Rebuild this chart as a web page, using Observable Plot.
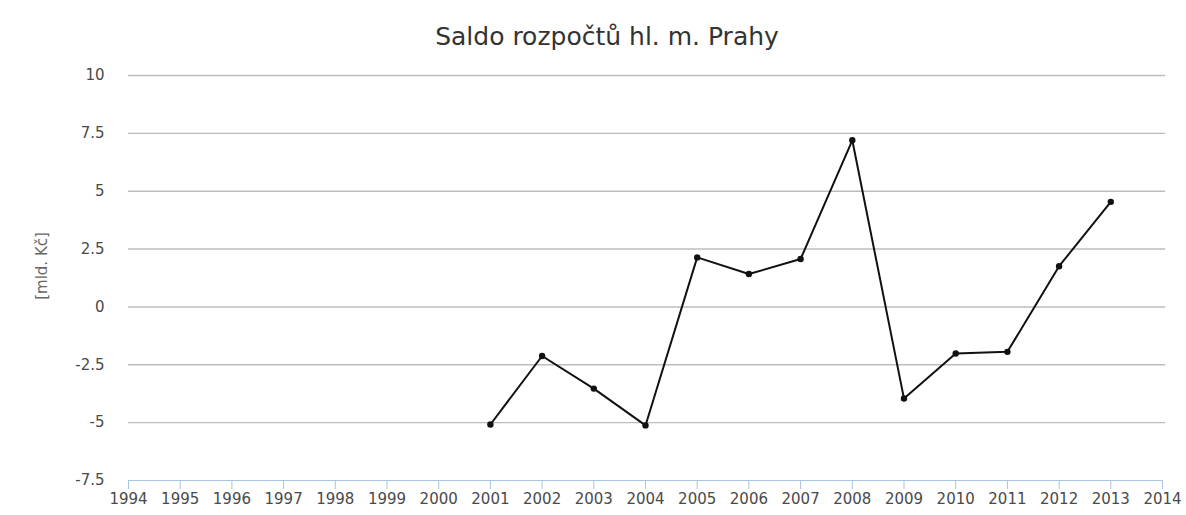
<!DOCTYPE html>
<html>
<head>
<meta charset="utf-8">
<script src="https://cdn.jsdelivr.net/npm/d3@7"></script>
<script src="https://cdn.jsdelivr.net/npm/@observablehq/plot@0.6"></script>
<style>
  body { margin: 0; background: #fff; font-family: "DejaVu Sans", sans-serif; }
  #title { height: 55px; box-sizing: border-box; padding-top: 23px; padding-left: 28px; text-align: center; font-size: 25px; line-height: 28px; color: #333; }
  #chart { position: relative; }
  #ylabel { position: absolute; left: 42px; top: 211px; transform: translate(-50%, -50%) rotate(-90deg); font-size: 15px; color: #666; white-space: nowrap; }
</style>
</head>
<body>
<div id="title">Saldo rozpočtů hl. m. Prahy</div>
<div id="chart"><div id="ylabel">[mld. Kč]</div></div>
<script>
const years = [2001, 2002, 2003, 2004, 2005, 2006, 2007, 2008, 2009, 2010, 2011, 2012, 2013];
const saldo = [-5.08, -2.12, -3.53, -5.12, 2.14, 1.42, 2.07, 7.2, -3.96, -2.01, -1.94, 1.76, 4.54];
const xTicks = d3.range(1994, 2015);
const yTicks = [-7.5, -5, -2.5, 0, 2.5, 5, 7.5, 10];

const data = years.map((y, i) => ({year: y, value: saldo[i]}));

const chart = Plot.plot({
  width: 1186,
  height: 460,
  marginTop: 20,
  marginBottom: 35,
  marginLeft: 128,
  marginRight: 24,
  style: {fontFamily: "DejaVu Sans, sans-serif", fontSize: "15px", color: "#555", background: "white"},
  x: {domain: [1994, 2014]},
  y: {domain: [-7.5, 10]},
  marks: [
    Plot.ruleY(yTicks.filter(d => d > -7.5), {y: d => d, x1: 1994, x2: 2014.06, stroke: "#bdbdbd", strokeWidth: 1.4}),
    Plot.axisY({ticks: yTicks, tickSize: 0, tickPadding: 24, tickFormat: d => String(d), label: null, fill: "#4a4a4a"}),
    Plot.axisX({ticks: xTicks, tickSize: 9, tickPadding: 4, tickFormat: d => String(d), label: null, stroke: "#a8c4de", fill: "#4a4a4a"}),
    Plot.ruleY([-7.5], {stroke: "#a8c4de", strokeWidth: 1.2}),
    Plot.line(data, {x: "year", y: "value", stroke: "#111", strokeWidth: 2}),
    Plot.dot(data, {x: "year", y: "value", r: 3.2, fill: "#111", stroke: "none"})
  ]
});
document.getElementById("chart").appendChild(chart);
</script>
</body>
</html>
